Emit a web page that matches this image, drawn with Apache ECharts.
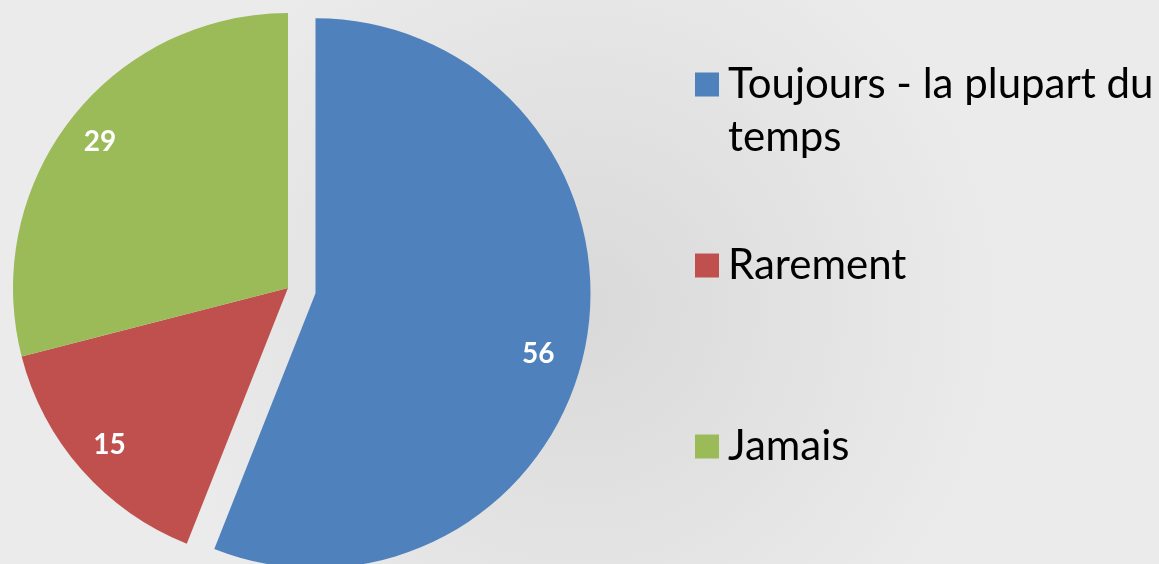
<!DOCTYPE html>
<html>
<head>
<meta charset="utf-8">
<script src="https://cdn.jsdelivr.net/npm/echarts@6/dist/echarts.min.js"></script>
<style>
html,body{margin:0;padding:0;}
#chart{width:1159px;height:564px;}
</style>
</head>
<body>
<div id="chart"></div>
<script>
const categories = ['Toujours - la plupart du temps', 'Rarement', 'Jamais'];
const values = [56, 15, 29];
const legendLabels = ['\nToujours - la plupart du\ntemps', 'Rarement', 'Jamais'];
const colors = ['#4f81bd', '#c0504d', '#9bbb59'];

const chart = echarts.init(document.getElementById('chart'));
const CENTER = [288, 288];
const R = 275;
const labelPads = [[0, 22, 0, 0], [0, 0, 0, 0], [0, 0, 0, 0]];
const labelDrop = [true, false, false];

function pieData(showColor) {
  return categories.map((name, i) => ({
    name: name,
    value: values[i],
    selected: i === 0,
    itemStyle: { color: showColor ? colors[i] : 'rgba(0,0,0,0)' },
    label: { padding: labelPads[i] }
  }));
}

const legendFont = { fontFamily: 'Lato', fontSize: 42, color: '#000', lineHeight: 53 };
const legendTops = [0, 234, 415];

const option = {
  animation: false,
  backgroundColor: {
    type: 'radial', x: 0.5, y: 0.55, r: 0.75,
    colorStops: [
      { offset: 0, color: '#d9d9d9' },
      { offset: 1, color: '#ebebeb' }
    ]
  },
  legend: categories.map((name, i) => ({
    orient: 'vertical',
    left: 690,
    top: legendTops[i],
    itemWidth: 24,
    itemHeight: 24,
    itemGap: 0,
    selectedMode: false,
    icon: 'rect',
    data: [{ name: name, itemStyle: { color: colors[i] } }],
    formatter: () => legendLabels[i],
    textStyle: Object.assign({ padding: [0, 0, 0, 4] }, legendFont)
  })),
  series: [
    {
      type: 'pie',
      center: CENTER,
      radius: [0, R],
      startAngle: 90,
      clockwise: true,
      selectedMode: 'single',
      selectedOffset: 28,
      silent: true,
      label: { show: false },
      labelLine: { show: false },
      emphasis: { disabled: true },
      data: pieData(true)
    },
    {
      type: 'pie',
      center: CENTER,
      radius: [195, R],
      startAngle: 90,
      clockwise: true,
      selectedMode: 'single',
      selectedOffset: 28,
      silent: true,
      legendHoverLink: false,
      label: {
        show: true,
        position: 'inside',
        formatter: (p) => (labelDrop[p.dataIndex] ? '\n' : '') + p.value,
        color: '#fff',
        fontFamily: 'Lato',
        fontWeight: 'bold',
        fontSize: 28,
        lineHeight: 32
      },
      labelLine: { show: false },
      emphasis: { disabled: true },
      data: pieData(false)
    }
  ]
};
chart.setOption(option);
</script>
</body>
</html>
